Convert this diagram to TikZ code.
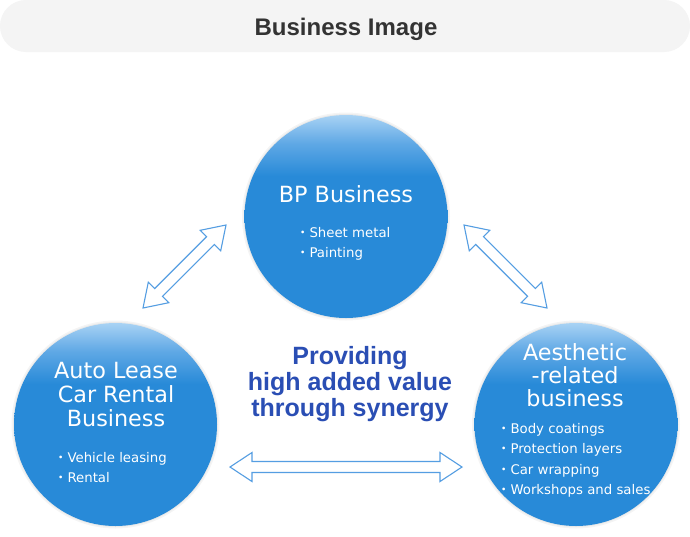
\documentclass[tikz,border=0pt]{standalone}
\usepackage{fontspec}
\usetikzlibrary{calc}
\newfontfamily\circfont{DejaVu Sans}
\newfontfamily\headfont{Liberation Sans}
\newfontfamily\cjkfont{Noto Sans CJK JP}
\definecolor{cmain}{RGB}{40,138,216}
\definecolor{clight}{RGB}{168,210,244}
\definecolor{cmid}{RGB}{95,168,229}
\definecolor{ctext}{RGB}{42,78,180}
\definecolor{carrow}{RGB}{85,158,226}
\definecolor{cbar}{RGB}{244,244,244}
\definecolor{ctitle}{RGB}{51,51,51}
\pgfdeclareverticalshading{bubbleshade}{100bp}{color(0bp)=(cmain); color(60bp)=(cmain); color(68bp)=(cmid); color(75bp)=(clight); color(100bp)=(clight)}
\newcommand{\dblarrow}[2]{%
  \coordinate (#1h) at ($(#1)!22pt!(#2)$);
  \coordinate (#2h) at ($(#2)!22pt!(#1)$);
  \draw[arrowline] (#1) -- ($(#1h)!14.5pt!90:(#2)$) -- ($(#1h)!5.5pt!90:(#2)$)
    -- ($(#2h)!5.5pt!-90:(#1)$) -- ($(#2h)!14.5pt!-90:(#1)$) -- (#2)
    -- ($(#2h)!14.5pt!90:(#1)$) -- ($(#2h)!5.5pt!90:(#1)$)
    -- ($(#1h)!5.5pt!-90:(#2)$) -- ($(#1h)!14.5pt!-90:(#2)$) -- cycle;}
\newcommand{\bdot}{{\cjkfont ・}}
\tikzset{
  bar/.style={rectangle, minimum width=690pt, minimum height=52pt, rounded corners=26pt, fill=cbar, inner sep=0pt},
  titletext/.style={font=\headfont\bfseries\fontsize{24}{28}\selectfont, text=ctitle, anchor=base, inner sep=0pt},
  bubble/.style={circle, minimum size=203pt, inner sep=0pt, shading=bubbleshade},
  halo/.style={fill=black, opacity=0.045},
  headtext/.style={font=\circfont\fontsize{22.3}{24}\selectfont, text=white, anchor=base, inner sep=0pt},
  itemtext/.style={font=\circfont\fontsize{13.3}{16}\selectfont, text=white, anchor=base west, inner sep=0pt},
  centertext/.style={font=\headfont\bfseries\fontsize{25}{30}\selectfont, text=ctext, anchor=base, inner sep=0pt},
  arrowline/.style={draw=carrow, fill=white, line width=1.1pt, line join=miter}
}
\begin{document}
\begin{tikzpicture}[x=1pt,y=-1pt]
\useasboundingbox (0,0) rectangle (690,536);
\fill[white] (0,0) rectangle (690,536);
% header
\node[bar] (hdr) at (345,26) {};
\node[titletext] (title) at (346,35) {Business Image};
% circle centres
\coordinate (cbp) at (346,216.5);
\coordinate (cal) at (115.5,424.5);
\coordinate (cae) at (576,424.5);
\foreach \c in {cbp,cal,cae}{
  \fill[halo] (\c) circle (104pt);
  \fill[halo] (\c) circle (102.5pt);
}
\node[bubble] (bp) at (cbp) {};
\node[bubble] (al) at (cal) {};
\node[bubble] (ae) at (cae) {};
% BP Business
\node[headtext] (bpt) at (346,202) {BP Business};
\node[itemtext] (bp1) at (296,237) {\bdot Sheet metal};
\node[itemtext] (bp2) at (296,257) {\bdot Painting};
% Auto Lease
\node[headtext] (alt1) at (116,378) {Auto Lease};
\node[headtext] (alt2) at (116,402) {Car Rental};
\node[headtext] (alt3) at (116,426) {Business};
\node[itemtext] (al1) at (54,462) {\bdot Vehicle leasing};
\node[itemtext] (al2) at (54,482.5) {\bdot Rental};
% Aesthetic
\node[headtext] (aet1) at (575,360) {Aesthetic};
\node[headtext] (aet2) at (575,383) {-related};
\node[headtext] (aet3) at (575,406) {business};
\node[itemtext] (ae1) at (497,433) {\bdot Body coatings};
\node[itemtext] (ae2) at (497,453.5) {\bdot Protection layers};
\node[itemtext] (ae3) at (497,474) {\bdot Car wrapping};
\node[itemtext] (ae4) at (497,494.5) {\bdot Workshops and sales};
% centre text
\node[centertext] (ct1) at (350,364) {Providing};
\node[centertext] (ct2) at (350,390) {high added value};
\node[centertext] (ct3) at (350,416) {through synergy};
% arrows
\coordinate (a1s) at (143,308);
\coordinate (a1e) at (226,225);
\coordinate (a2s) at (464,225);
\coordinate (a2e) at (547,308);
\coordinate (a3s) at (230,467);
\coordinate (a3e) at (462,467);
\dblarrow{a1s}{a1e}
\dblarrow{a2s}{a2e}
\dblarrow{a3s}{a3e}
\end{tikzpicture}
\end{document}
